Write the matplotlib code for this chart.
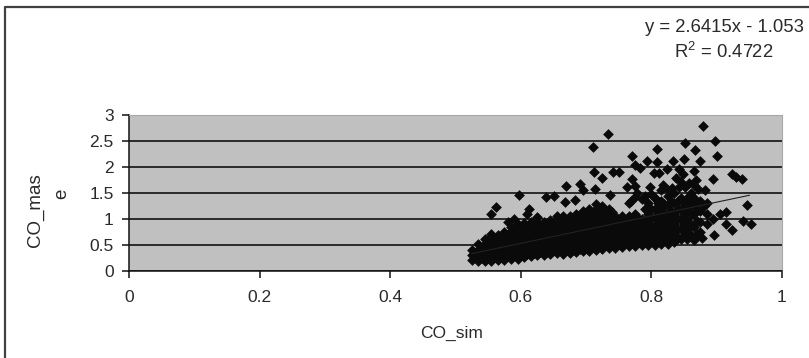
import matplotlib
matplotlib.use("Agg")
import matplotlib.pyplot as plt

W, H = 809, 358

# points that stand clear of the main cloud
outlier_x = [.879, .733, .710, .851, .898, .867, .809, .771, .901, .794, .809, .833, .850, .874,
             .775, .783, .824, .843, .866, .712, .741, .750, .725, .804, .812, .838, .849, .894,
             .923, .930, .939, .771, .669, .691, .695, .762, .775, .798, .818, .851, .866, .882,
             .598, .639, .651, .714, .737, .947, .562, .554, .612, .667, .683, .940, .952, .924,
             .896, .877, .915, .914, .894, .905, .880, .860, .790, .815, .835, .800, .785,
             .845, .858, .872, .826, .806, .768, .778, .832, .842, .868, .610, .625, .590, .580]
outlier_y = [2.79, 2.63, 2.38, 2.47, 2.50, 2.33, 2.35, 2.22, 2.22, 2.12, 2.09, 2.12, 2.15, 2.11,
             2.04, 1.99, 1.97, 1.97, 1.93, 1.90, 1.90, 1.90, 1.79, 1.88, 1.88, 1.78, 1.87, 1.76,
             1.87, 1.80, 1.76, 1.77, 1.63, 1.67, 1.56, 1.62, 1.63, 1.62, 1.65, 1.61, 1.65, 1.56,
             1.46, 1.43, 1.44, 1.57, 1.47, 1.26, 1.24, 1.10, 1.19, 1.33, 1.37, .97, .90, .78,
             .69, .63, 1.14, .90, 1.00, 1.10, 1.25, 1.50, 1.45, 1.55, 1.50, 1.48, 1.38,
             1.72, 1.70, 1.58, 1.55, 1.40, 1.35, 1.50, 1.60, 1.62, 1.75, 1.10, 1.04, 1.00, .95]

# main cloud, one column of co_mase values per co_sim value
cloud_x = [.525, .535, .545, .555, .565, .575, .585, .595, .605, .615, .625, .635, .645, .655,
           .665, .675, .685, .695, .705, .715, .725, .735, .745, .755, .765, .775, .785, .795,
           .805, .815, .825, .835, .845, .855, .865, .875, .885]
cloud_y = [
    [.22, .30, .40],
    [.20, .30, .40, .52],
    [.20, .30, .42, .52, .62],
    [.20, .31, .42, .54, .66, .72],
    [.22, .33, .44, .55, .64, .70],
    [.22, .34, .46, .58, .68, .75],
    [.24, .35, .47, .60, .72, .85],
    [.24, .36, .49, .61, .74, .90],
    [.26, .38, .50, .63, .76, .92],
    [.28, .40, .53, .66, .80, .95],
    [.30, .42, .55, .68, .82, .95],
    [.30, .43, .56, .70, .83, .95],
    [.32, .45, .58, .72, .86, .98],
    [.34, .47, .60, .74, .89, 1.05],
    [.32, .46, .61, .76, .91, 1.05],
    [.34, .48, .62, .78, .92, 1.05],
    [.36, .50, .65, .80, .95, 1.10],
    [.38, .52, .68, .84, 1.00, 1.15],
    [.38, .54, .70, .86, 1.02, 1.20],
    [.40, .56, .72, .88, 1.04, 1.20, 1.29],
    [.42, .58, .74, .90, 1.06, 1.25],
    [.44, .60, .76, .92, 1.06, 1.20],
    [.44, .60, .75, .90, 1.05],
    [.46, .62, .78, .92, 1.05],
    [.48, .63, .78, .92, 1.05, 1.30],
    [.48, .64, .80, .95, 1.10, 1.42],
    [.50, .65, .80, .92, 1.00],
    [.50, .66, .82, .96, 1.10, 1.30],
    [.50, .66, .84, 1.02, 1.20, 1.40],
    [.52, .68, .86, 1.04, 1.20, 1.35],
    [.52, .70, .88, 1.06, 1.25, 1.45],
    [.55, .72, .90, 1.10, 1.30],
    [.62, .80, 1.00, 1.20, 1.40],
    [.62, .78, .98, 1.20, 1.40],
    [.60, .85, 1.10, 1.25, 1.40],
    [.75, .95, 1.15, 1.35],
    [.90, 1.10, 1.30],
]

# second pass through the cloud, between the columns above
fill_x = [.530, .540, .550, .560, .570, .580, .590, .600, .610, .620, .630, .640, .650, .660,
          .670, .680, .690, .700, .710, .720, .730, .740, .750, .760, .770, .780, .790, .800,
          .810, .820, .830, .840, .850, .860, .870]
fill_y = [
    [.26, .35],
    [.25, .35, .46],
    [.25, .36, .47, .57],
    [.26, .37, .48, .60],
    [.28, .39, .50, .60, .67],
    [.28, .40, .52, .63, .72],
    [.30, .41, .53, .66, .78],
    [.30, .43, .55, .68, .82],
    [.32, .44, .57, .70, .84],
    [.34, .46, .60, .73, .88],
    [.36, .49, .62, .75, .89],
    [.36, .50, .63, .77, .90],
    [.38, .52, .66, .80, .92],
    [.40, .54, .67, .82, .97],
    [.40, .54, .69, .84, .98],
    [.41, .55, .70, .85, .98],
    [.43, .58, .73, .88, 1.03],
    [.45, .60, .76, .92, 1.08],
    [.46, .62, .78, .94, 1.11],
    [.48, .64, .80, .96, 1.12],
    [.50, .66, .82, .98, 1.15],
    [.52, .68, .84, .99, 1.13],
    [.52, .68, .83, .97],
    [.54, .70, .85, .99],
    [.55, .71, .85, .99],
    [.56, .72, .88, 1.02],
    [.58, .72, .86, .96, 1.20],
    [.58, .74, .89, 1.03, 1.20],
    [.58, .75, .93, 1.11, 1.30],
    [.60, .77, .95, 1.12, 1.28],
    [.61, .79, .97, 1.15, 1.35],
    [.64, .81, 1.00, 1.20, 1.35],
    [.70, .90, 1.10, 1.30],
    [.70, .88, 1.09, 1.30],
    [.72, .97, 1.17, 1.32],
]

trend_x = [.525, .95]
trend_y = [.334, 1.456]

x_ticks = [0, .2, .4, .6, .8, 1]
x_labels = ["0", "0.2", "0.4", "0.6", "0.8", "1"]
y_ticks = [0, .5, 1, 1.5, 2, 2.5, 3]
y_labels = ["0", "0.5", "1", "1.5", "2", "2.5", "3"]

plt.rcParams["font.family"] = ["Liberation Sans", "DejaVu Sans"]
plt.rcParams["mathtext.fontset"] = "custom"
plt.rcParams["mathtext.rm"] = "Liberation Sans"

TEXT = "#2a2a2a"
INK = "#0a0a0a"

fig = plt.figure(figsize=(W / 100, H / 100), dpi=100)
# outer chart border, only left and top fall inside the crop
fig.add_artist(plt.Line2D([5 / W, 5 / W, 1], [0, 1 - 7 / H, 1 - 7 / H], transform=fig.transFigure,
                          color="#404040", lw=1.6))

ax = fig.add_axes([129 / W, 1 - 271 / H, 653 / W, 156 / H])
ax.set_facecolor("#c0c0c0")
ax.set_xlim(0, 1)
ax.set_ylim(0, 3)
for s in ["top", "right"]:
    ax.spines[s].set_color("#a8a8a8")
for s in ["left", "bottom"]:
    ax.spines[s].set_color("#111111")
    ax.spines[s].set_linewidth(1.1)
ax.yaxis.grid(True, color="#111111", lw=1.2)
ax.set_axisbelow(True)

ax.set_xticks(x_ticks)
ax.set_xticklabels(x_labels, fontsize=12.5, color=TEXT)
ax.set_yticks(y_ticks)
ax.set_yticklabels(y_labels, fontsize=12.5, color=TEXT)
ax.tick_params(length=5, width=1.1, color="#111111")
ax.tick_params(axis="y", pad=6)
ax.tick_params(axis="x", pad=9)

for x, ys in zip(cloud_x, cloud_y):
    ax.scatter([x] * len(ys), ys, marker="D", s=30, color=INK, lw=0, zorder=3)
for x, ys in zip(fill_x, fill_y):
    ax.scatter([x] * len(ys), ys, marker="D", s=30, color=INK, lw=0, zorder=3)
ax.scatter(outlier_x, outlier_y, marker="D", s=30, color=INK, lw=0, zorder=3)
ax.plot(trend_x, trend_y, color="#222222", lw=0.8, zorder=4)

fig.text(452 / W, 1 - 333 / H, "CO_sim", fontsize=12.5, color=TEXT, ha="center", va="center")
fig.text(35 / W, 1 - 210 / H, "CO_mas", fontsize=13.5, color=TEXT, ha="center", va="center", rotation=90)
fig.text(62 / W, 1 - 194 / H, "e", fontsize=13.5, color=TEXT, ha="center", va="center", rotation=90)

fig.text(804 / W, 1 - 27 / H, "y = 2.6415x - 1.053", fontsize=13.3, color=TEXT, ha="right", va="center")
fig.text(773 / W, 1 - 52 / H, "R$^{2}$ = 0.4722", fontsize=13.3, color=TEXT, ha="right", va="center")

fig.savefig("out.png", dpi=100)
